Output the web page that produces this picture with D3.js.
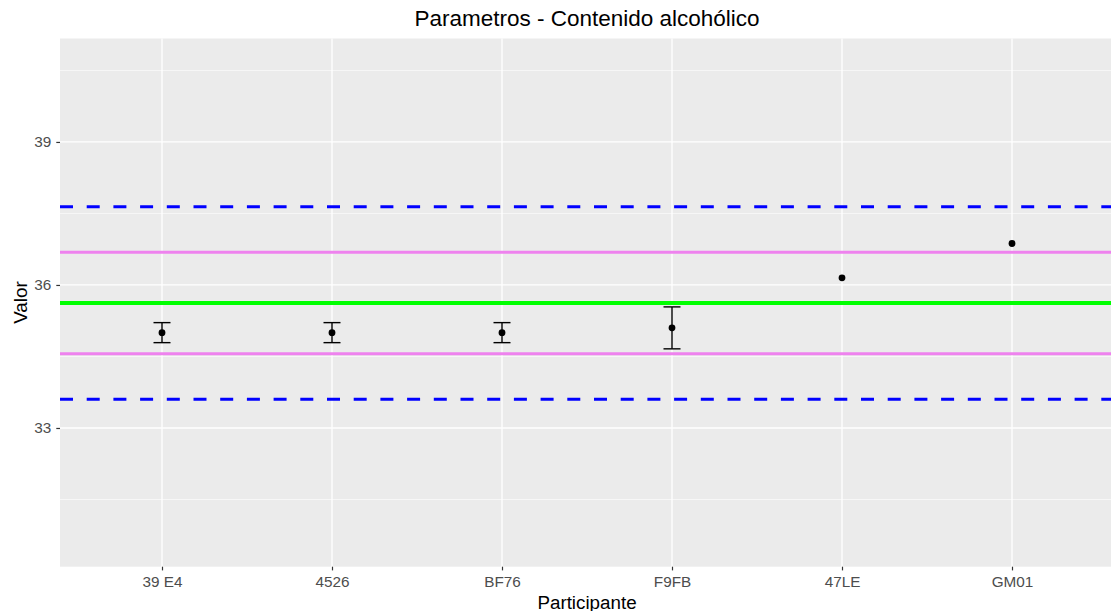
<!DOCTYPE html>
<html>
<head>
<meta charset="utf-8">
<script src="https://cdn.jsdelivr.net/npm/d3@7"></script>
<style>
  html, body { margin: 0; padding: 0; background: #fff; }
  svg { display: block; font-family: "Liberation Sans", Arial, sans-serif; }
</style>
</head>
<body>
<svg id="chart" width="1111" height="611"></svg>
<script>
// Participants and their reported values
const participants = ["39 E4", "4526", "BF76", "F9FB", "47LE", "GM01"];
const values = [35.0, 35.0, 35.0, 35.1, 36.15, 36.87];
// Uncertainty half-width (null = no error bar)
const uncertainty = [0.21, 0.21, 0.21, 0.44, null, null];

// Reference lines: assigned value, ±1 and ±2 limits
const assignedValue = 35.62;
const innerLimits = [36.685, 34.555];
const outerLimits = [37.64, 33.605];

const yTicks = [33, 36, 39];
const yMinorTicks = [31.5, 34.5, 37.5, 40.5];
const yDomain = [30.09, 41.17];

const svg = d3.select("#chart");
const panel = { left: 60, right: 1114, top: 38.5, bottom: 566.7 };

const x = d3.scalePoint()
  .domain(participants)
  .range([panel.left, panel.right])
  .padding(0.6);

const y = d3.scaleLinear()
  .domain(yDomain)
  .range([panel.bottom, panel.top]);

// Panel background
svg.append("rect")
  .attr("x", panel.left).attr("y", panel.top)
  .attr("width", panel.right - panel.left)
  .attr("height", panel.bottom - panel.top)
  .attr("fill", "#EBEBEB");

const grid = svg.append("g");
grid.selectAll(".minor").data(yMinorTicks).join("line")
  .attr("x1", panel.left).attr("x2", panel.right)
  .attr("y1", d => y(d)).attr("y2", d => y(d))
  .attr("stroke", "#fff").attr("stroke-width", 0.6);
grid.selectAll(".majorY").data(yTicks).join("line")
  .attr("x1", panel.left).attr("x2", panel.right)
  .attr("y1", d => y(d)).attr("y2", d => y(d))
  .attr("stroke", "#fff").attr("stroke-width", 1.3);
grid.selectAll(".majorX").data(participants).join("line")
  .attr("x1", d => x(d)).attr("x2", d => x(d))
  .attr("y1", panel.top).attr("y2", panel.bottom)
  .attr("stroke", "#fff").attr("stroke-width", 1.3);

// Reference lines
const refs = svg.append("g");
refs.selectAll(".outer").data(outerLimits).join("line")
  .attr("x1", panel.left).attr("x2", panel.right)
  .attr("y1", d => y(d)).attr("y2", d => y(d))
  .attr("stroke", "#0000FF").attr("stroke-width", 3)
  .attr("stroke-dasharray", "13,13.7");
refs.selectAll(".inner").data(innerLimits).join("line")
  .attr("x1", panel.left).attr("x2", panel.right)
  .attr("y1", d => y(d)).attr("y2", d => y(d))
  .attr("stroke", "#EE82EE").attr("stroke-width", 3);
refs.append("line")
  .attr("x1", panel.left).attr("x2", panel.right)
  .attr("y1", y(assignedValue)).attr("y2", y(assignedValue))
  .attr("stroke", "#00FF00").attr("stroke-width", 4);

// Error bars
const rows = participants.map((p, i) => ({ p, v: values[i], u: uncertainty[i] }));
const eb = svg.append("g").attr("stroke", "#000").attr("stroke-width", 1.4);
rows.filter(d => d.u != null).forEach(d => {
  const cx = x(d.p), hw = 8.5;
  eb.append("line").attr("x1", cx).attr("x2", cx)
    .attr("y1", y(d.v + d.u)).attr("y2", y(d.v - d.u));
  eb.append("line").attr("x1", cx - hw).attr("x2", cx + hw)
    .attr("y1", y(d.v + d.u)).attr("y2", y(d.v + d.u));
  eb.append("line").attr("x1", cx - hw).attr("x2", cx + hw)
    .attr("y1", y(d.v - d.u)).attr("y2", y(d.v - d.u));
});

// Points
svg.append("g").selectAll("circle").data(rows).join("circle")
  .attr("cx", d => x(d.p)).attr("cy", d => y(d.v))
  .attr("r", 3.4).attr("fill", "#000");

// Axes
const xAxis = svg.append("g")
  .attr("transform", `translate(0,${panel.bottom})`)
  .call(d3.axisBottom(x).tickSize(3.7).tickPadding(5.5));
xAxis.select(".domain").remove();
xAxis.selectAll(".tick line").attr("stroke", "#333").attr("stroke-width", 1.2);
xAxis.selectAll(".tick text").attr("fill", "#4D4D4D").attr("font-size", 15.3);

const yAxis = svg.append("g")
  .attr("transform", `translate(${panel.left},0)`)
  .call(d3.axisLeft(y).tickValues(yTicks).tickSize(3.7).tickPadding(5));
yAxis.select(".domain").remove();
yAxis.selectAll(".tick line").attr("stroke", "#333").attr("stroke-width", 1.2);
yAxis.selectAll(".tick text").attr("fill", "#4D4D4D").attr("font-size", 15.3);

// Titles
svg.append("text")
  .attr("x", (panel.left + panel.right) / 2).attr("y", 26)
  .attr("text-anchor", "middle")
  .attr("font-size", 22.5).attr("fill", "#000")
  .text("Parametros - Contenido alcohólico");

svg.append("text")
  .attr("x", (panel.left + panel.right) / 2).attr("y", 608.5)
  .attr("text-anchor", "middle")
  .attr("font-size", 18.8).attr("fill", "#000")
  .text("Participante");

svg.append("text")
  .attr("transform", `translate(27,${(panel.top + panel.bottom) / 2}) rotate(-90)`)
  .attr("text-anchor", "middle")
  .attr("font-size", 18.8).attr("fill", "#000")
  .text("Valor");
</script>
</body>
</html>
